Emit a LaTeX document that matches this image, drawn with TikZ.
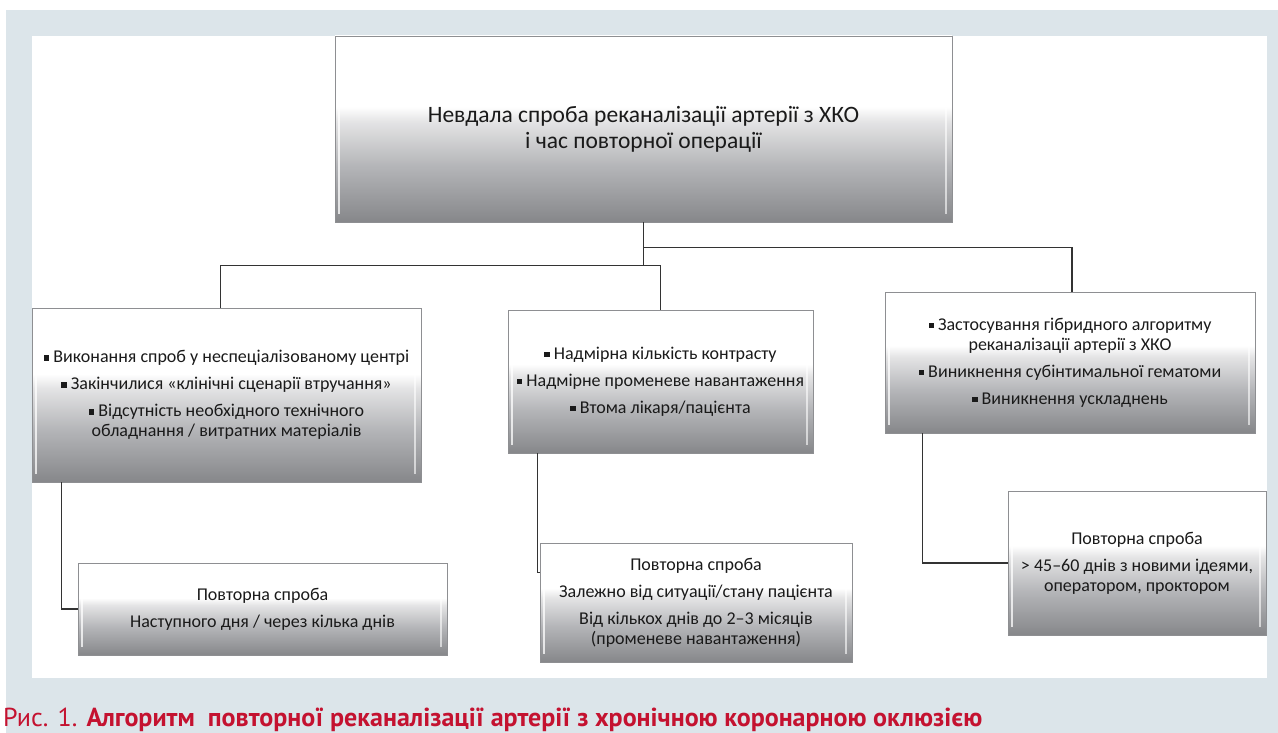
\documentclass[tikz,border=0pt]{standalone}
\usepackage{fontspec}
\setmainfont{Carlito}
\newfontfamily\capfont{PT Sans}
\usetikzlibrary{calc}
\definecolor{bgblue}{HTML}{DCE5EA}
\definecolor{txt}{HTML}{1A1A1A}
\definecolor{capred}{HTML}{C41230}
\definecolor{edgegray}{HTML}{8E8F92}
\definecolor{lnk}{HTML}{333333}
\definecolor{gA}{HTML}{86878A}
\definecolor{gB}{HTML}{B4B5B8}
\definecolor{gC}{HTML}{E4E4E5}
\pgfdeclareverticalshading{boxgrad}{100bp}{color(0bp)=(gA); color(25bp)=(gA); color(40bp)=(gB); color(52bp)=(gC); color(56bp)=(white); color(100bp)=(white)}
\newcommand\bul{\raisebox{0.25ex}{\rule{0.3em}{0.3em}}\ }
\tikzset{
  box/.style={rectangle, shade, shading=boxgrad, draw=edgegray, line width=0.9pt,
    align=center, inner sep=0pt, text=txt, font=\fontsize{18}{20}\selectfont,
    path picture={
      \draw[white, opacity=0.75, line width=1.6pt]
        ([xshift=4pt,yshift=-5pt]path picture bounding box.north west) --
        ([xshift=4pt,yshift=8pt]path picture bounding box.south west);
      \draw[white, opacity=0.6, line width=1.6pt]
        ([xshift=-6pt,yshift=-5pt]path picture bounding box.north east) --
        ([xshift=-6pt,yshift=8pt]path picture bounding box.south east);
    }},
  conn/.style={draw=lnk, line width=1.4pt},
}
\begin{document}
\begin{tikzpicture}[x=1pt,y=-1pt]
\useasboundingbox (0,0) rectangle (1278,733);
\fill[white] (0,0) rectangle (1278,733);
\fill[bgblue] (6,10) rectangle (1278,733);
\fill[white] (32,36) rectangle (1267,678);

\node[box, minimum width=617pt, minimum height=186pt, font=\fontsize{23.5}{26}\selectfont] (top) at (643.5,129)
  {Невдала спроба реканалізації артерії з ХКО\\і час повторної операції};

\node[box, minimum width=389pt, minimum height=174pt] (left) at (226.5,395)
  {\bul Виконання спроб у неспеціалізованому центрі\\[7pt]
   \bul Закінчилися «клінічні сценарії втручання»\\[7pt]
   \bul Відсутність необхідного технічного\\обладнання / витратних матеріалів};

\node[box, minimum width=305pt, minimum height=143pt] (mid) at (660.5,381.5)
  {\bul Надмірна кількість контрасту\\[7pt]
   \bul Надмірне променеве навантаження\\[7pt]
   \bul Втома лікаря/пацієнта};

\node[box, minimum width=370pt, minimum height=141pt] (right) at (1070,362.5)
  {\bul Застосування гібридного алгоритму\\реканалізації артерії з ХКО\\[7pt]
   \bul Виникнення субінтимальної гематоми\\[7pt]
   \bul Виникнення ускладнень};

\node[box, minimum width=369pt, minimum height=92pt] (lchild) at (262.5,609)
  {Повторна спроба\\[7pt]Наступного дня / через кілька днів};

\node[box, minimum width=312pt, minimum height=119pt] (mchild) at (696,602.5)
  {Повторна спроба\\[7pt]Залежно від ситуації/стану пацієнта\\[7pt]
   Від кількох днів до 2–3 місяців\\(променеве навантаження)};

\node[box, minimum width=258pt, minimum height=144pt] (rchild) at (1137,563)
  {Повторна спроба\\[7pt]> 45–60 днів з новими ідеями,\\оператором, проктором};

\draw[conn] (top.south) -- ($(top.south)+(0,43)$) -| ($(left.north)+(-6,0)$);
\draw[conn] ($(top.south)+(0,43)$) -| (mid.north);
\draw[conn] ($(top.south)+(0,25)$) -| ($(right.north)+(2,0)$);
\draw[conn] ($(left.south west)+(30,0)$) |- (lchild.west);
\draw[conn] ($(mid.south west)+(30,0)$) |- ($(mchild.north west)+(0,30)$);
\draw[conn] ($(right.south west)+(38,0)$) |- (rchild.west);

\node[anchor=base west, inner sep=0pt, text=capred, font=\capfont\fontsize{26}{28}\selectfont] (cap) at (3,726)
  {Рис. 1. \textbf{Алгоритм\hspace{0.5em}повторної реканалізації артерії з хронічною коронарною оклюзією}};
\end{tikzpicture}
\end{document}
